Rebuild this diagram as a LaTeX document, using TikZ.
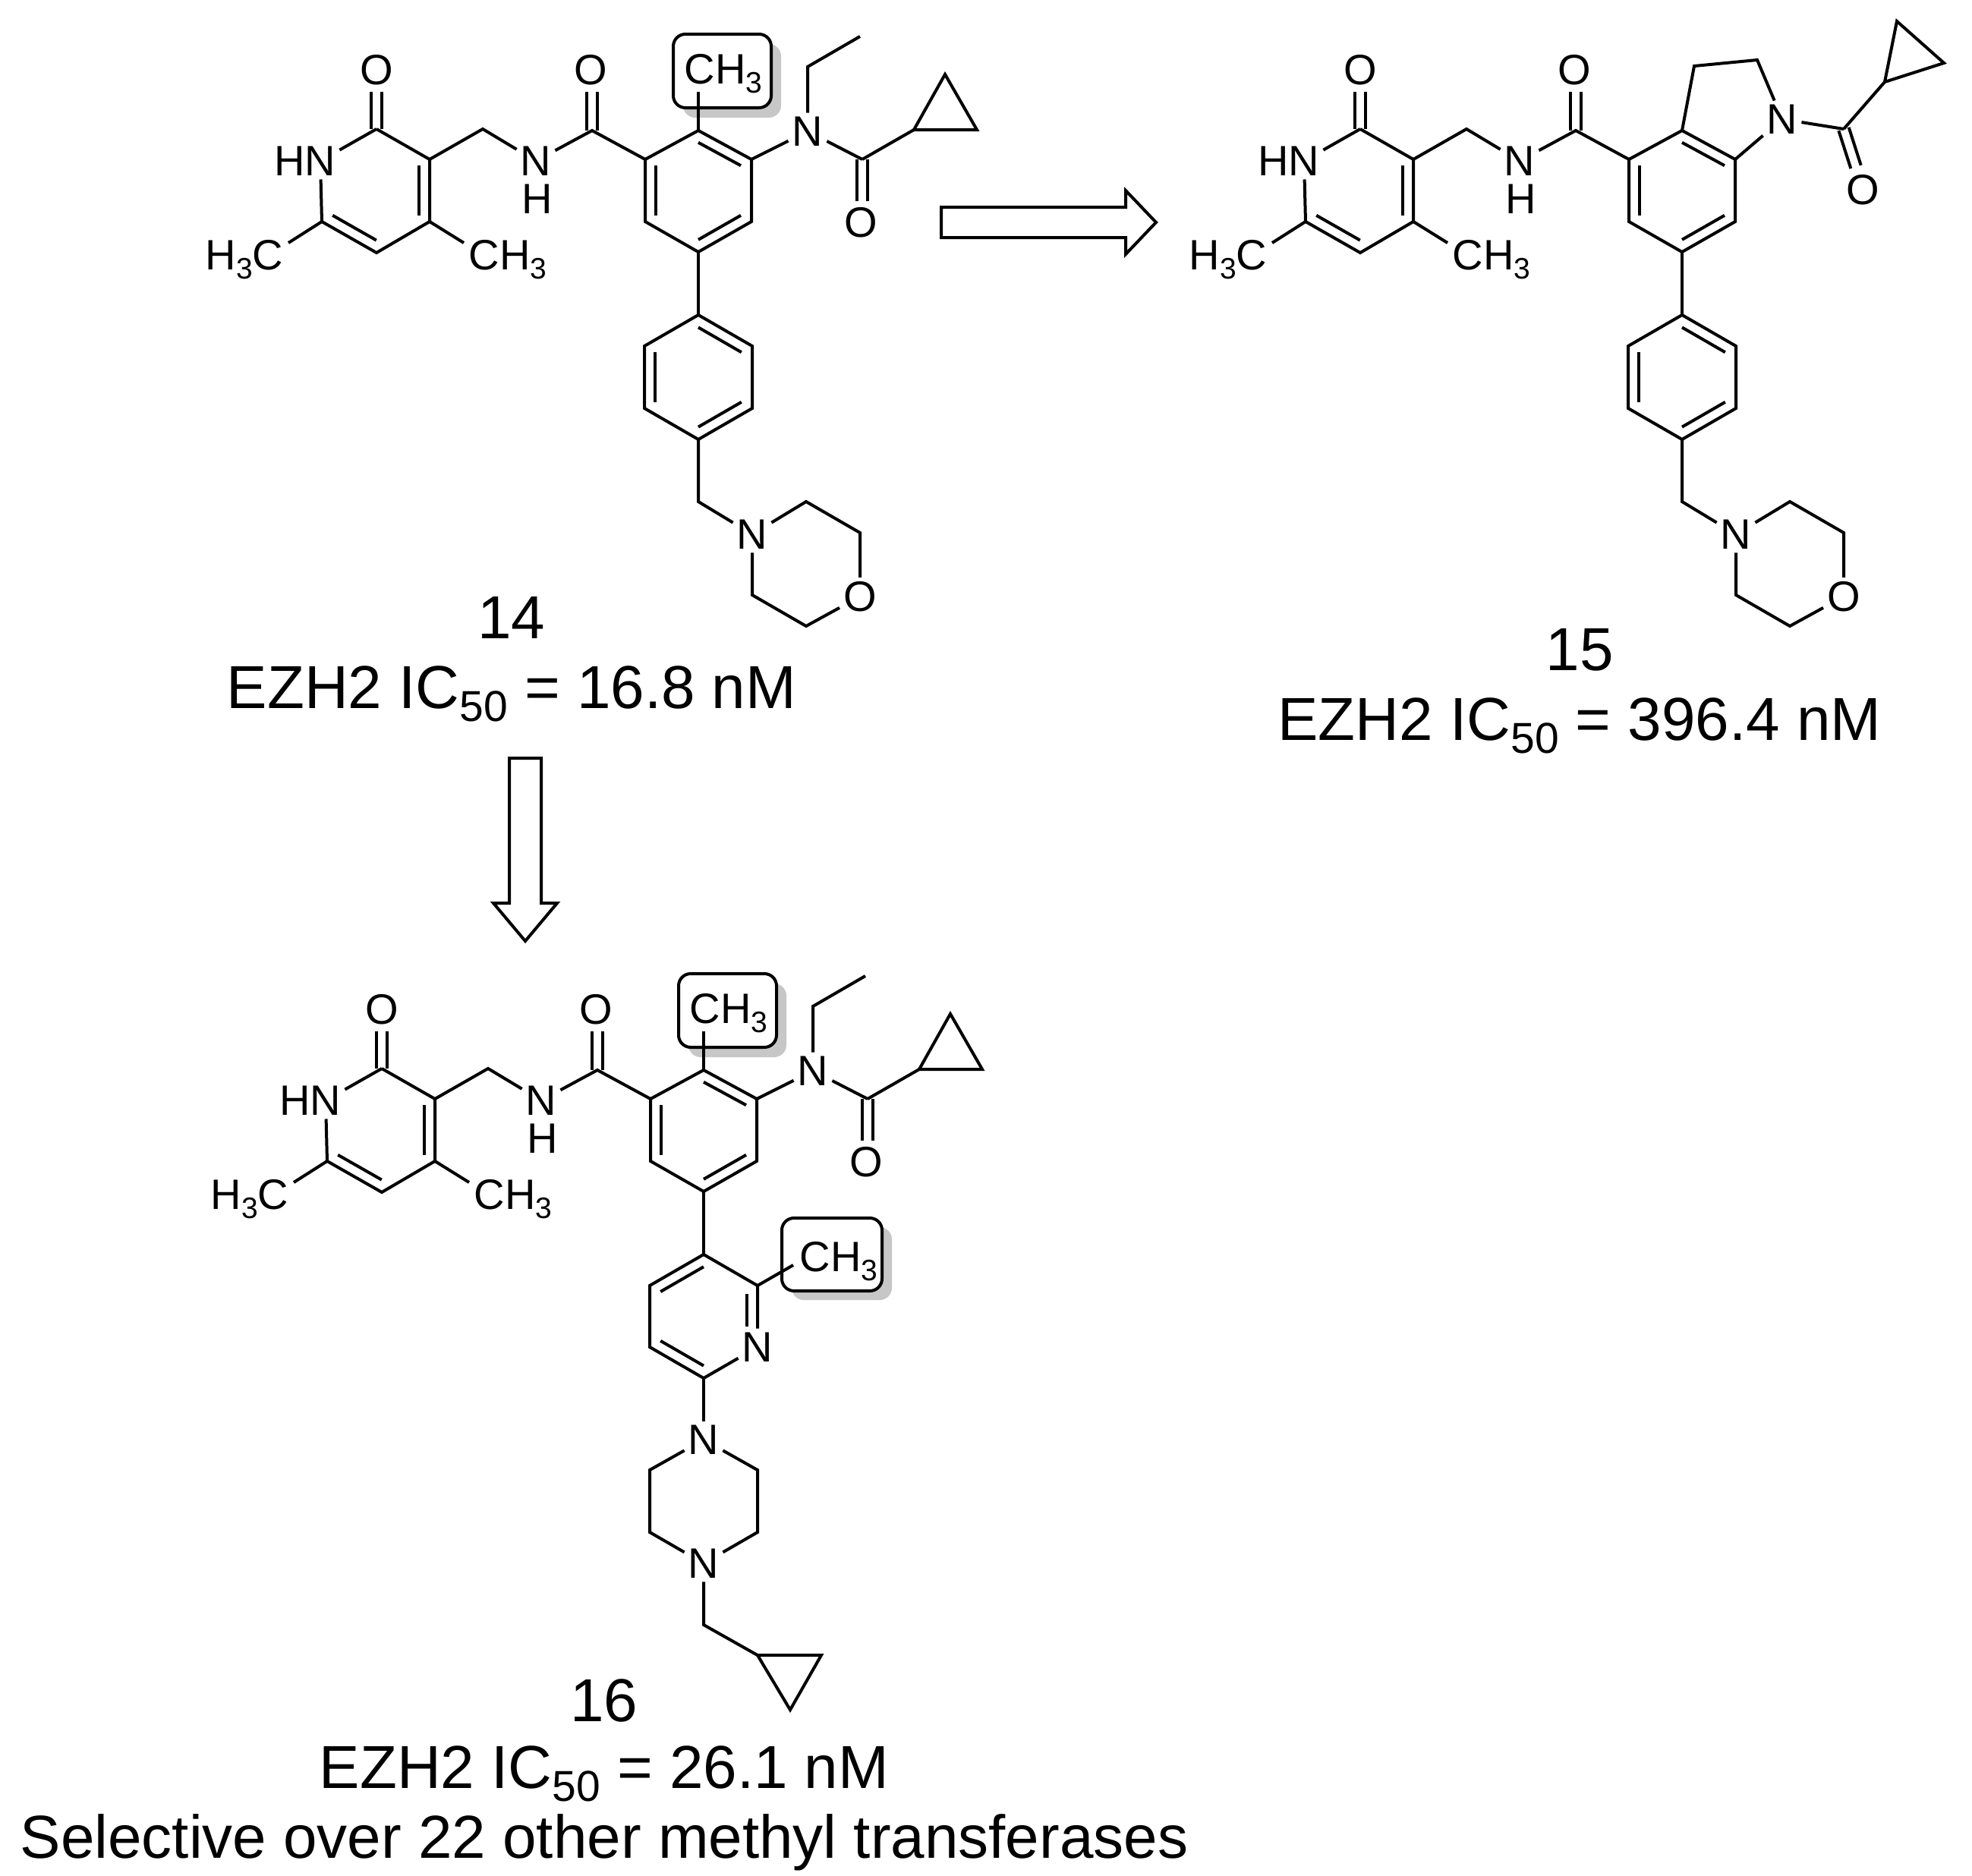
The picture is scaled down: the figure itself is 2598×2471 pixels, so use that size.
\documentclass[tikz,border=0pt]{standalone}
\usepackage{fontspec}
\setmainfont{Liberation Sans}
\usetikzlibrary{calc}
\newcommand\sbs[1]{\raisebox{-0.22em}{\fontsize{39}{39}\selectfont #1}}
\newcommand\sbl[1]{\raisebox{-0.22em}{\fontsize{57}{57}\selectfont #1}}
\tikzset{atom/.style={font=\fontsize{56}{56}\selectfont, inner sep=5pt},
 lbl/.style={font=\fontsize{80}{80}\selectfont, inner sep=0pt, anchor=base},
 bond/.style={line width=4pt},
 hibox/.style={draw, line width=4pt, fill=white, rounded corners=16pt},
 hishadow/.style={fill=black!22, rounded corners=16pt},
 bigarrow/.style={draw, line width=4pt, fill=white, line join=miter}}
\newcommand\dblb[2]{\draw[bond] ($(#1)!7pt!90:(#2)$) -- ($(#2)!7pt!-90:(#1)$); \draw[bond] ($(#1)!7pt!-90:(#2)$) -- ($(#2)!7pt!90:(#1)$);}
\newcommand\inb[3]{\draw[bond] ($(#1)!0.2!(#3)$) -- ($(#2)!0.2!(#3)$);}
\newcommand\pyram[1]{%
 \coordinate (#1c2) at (496,170); \coordinate (#1c3) at (566,210); \coordinate (#1c4) at (566,292);
 \coordinate (#1c5) at (496,333); \coordinate (#1c6) at (424,292); \coordinate (#1pc) at (495,251);
 \node[atom] (#1n1) at (422,212) {N};
 \node[atom,anchor=east,inner sep=0pt] (#1h1) at ([xshift=6pt]#1n1.west) {H};
 \node[atom] (#1O1) at (496,92) {O}; \coordinate (#1o1e) at (496,121);
 \draw[bond] (#1c6) -- (#1n1) -- (#1c2);
 \draw[bond] (#1c2) -- (#1c3) -- (#1c4) -- (#1c5) -- (#1c6);
 \inb{#1c3}{#1c4}{#1pc} \inb{#1c5}{#1c6}{#1pc}
 \dblb{#1c2}{#1o1e}
 \coordinate (#1m1) at (380,320); \coordinate (#1m2) at (611,320);
 \draw[bond] (#1c6) -- (#1m1); \draw[bond] (#1c4) -- (#1m2);
 \node[atom,anchor=base,inner sep=0pt] (#1me1) at (322,355) {H\sbs{3}C};
 \node[atom,anchor=base,inner sep=0pt] (#1me2) at (669,355) {CH\sbs{3}};
 \coordinate (#1ch2) at (636,170); \node[atom] (#1n2) at (706,212) {N};
 \node[atom] (#1h2) at (708,262) {H};
 \coordinate (#1c7) at (780,172); \coordinate (#1o2e) at (780,121);
 \node[atom] (#1O2) at (778,92) {O}; \coordinate (#1b1) at (850,210);
 \draw[bond] (#1c3) -- (#1ch2) -- (#1n2) -- (#1c7) -- (#1b1);
 \dblb{#1c7}{#1o2e}
}
\newcommand\benz[1]{%
 \coordinate (#1b2) at (920,172); \coordinate (#1b3) at (990,210); \coordinate (#1b4) at (990,292);
 \coordinate (#1b5) at (920,332); \coordinate (#1b6) at (850,292); \coordinate (#1bc) at (920,251);
 \draw[bond] (#1b1) -- (#1b2) -- (#1b3) -- (#1b4) -- (#1b5) -- (#1b6) -- cycle;
 \inb{#1b2}{#1b3}{#1bc} \inb{#1b4}{#1b5}{#1bc} \inb{#1b6}{#1b1}{#1bc}
 \fill[hishadow] (900,58) rectangle (1029,155);
 \draw[hibox] (887,45) rectangle (1016,142);
 \coordinate (#1me3) at (920,121); \draw[bond] (#1b2) -- (#1me3);
 \node[atom,anchor=base,inner sep=0pt] (#1me3t) at (953,110) {CH\sbs{3}};
 \node[atom] (#1n3) at (1064,173) {N};
 \coordinate (#1et1) at (1064,88); \coordinate (#1et2) at (1133,48);
 \draw[bond] (#1b3) -- (#1n3); \draw[bond] (#1n3) -- (#1et1) -- (#1et2);
 \coordinate (#1ac) at (1136,210); \coordinate (#1aoe) at (1136,265);
 \node[atom] (#1O3) at (1134,293) {O};
 \draw[bond] (#1n3) -- (#1ac); \dblb{#1ac}{#1aoe}
 \coordinate (#1cp1) at (1204,171); \coordinate (#1cp2) at (1245,98); \coordinate (#1cp3) at (1287,171);
 \draw[bond] (#1ac) -- (#1cp1); \draw[bond] (#1cp1) -- (#1cp2) -- (#1cp3) -- cycle;
 \coordinate (#1p1) at (920,415); \draw[bond] (#1b5) -- (#1p1);
}
\newcommand\phmorph[1]{%
 \coordinate (#1p1) at (920,415); \coordinate (#1p2) at (991,456); \coordinate (#1p3) at (991,538);
 \coordinate (#1p4) at (920,579); \coordinate (#1p5) at (849,538); \coordinate (#1p6) at (849,456);
 \coordinate (#1ppc) at (920,497);
 \draw[bond] (#1p1) -- (#1p2) -- (#1p3) -- (#1p4) -- (#1p5) -- (#1p6) -- cycle;
 \inb{#1p1}{#1p2}{#1ppc} \inb{#1p3}{#1p4}{#1ppc} \inb{#1p5}{#1p6}{#1ppc}
 \coordinate (#1pch) at (920,661);
 \node[atom] (#1mn) at (991,704) {N}; \node[atom] (#1mo) at (1133,786) {O};
 \coordinate (#1q1) at (1062,661); \coordinate (#1q2) at (1133,702);
 \coordinate (#1q3) at (1062,825); \coordinate (#1q4) at (991,784);
 \draw[bond] (#1p4) -- (#1pch) -- (#1mn) -- (#1q1) -- (#1q2) -- (#1mo) -- (#1q3) -- (#1q4) -- (#1mn);
}
\begin{document}
\begin{tikzpicture}[x=1pt,y=-1pt]
\useasboundingbox (0,0) rectangle (2598,2471);
\fill[white] (0,0) rectangle (2598,2471);
% ---- compound 14
\pyram{a} \benz{a} \phmorph{a}
\node[lbl] (l14) at (674,841) {14};
\node[lbl] (e14) at (674,933) {EZH2 IC\sbl{50} = 16.8 nM};
% ---- compound 15
\begin{scope}[shift={(1296,0)}]
\pyram{f}
\coordinate (fb2) at (920,172); \coordinate (fb3) at (990,210); \coordinate (fb4) at (990,292);
\coordinate (fb5) at (920,332); \coordinate (fb6) at (850,292); \coordinate (fbc) at (920,251);
\draw[bond] (fb1) -- (fb2) -- (fb3) -- (fb4) -- (fb5) -- (fb6) -- cycle;
\inb{fb2}{fb3}{fbc} \inb{fb4}{fb5}{fbc} \inb{fb6}{fb1}{fbc}
\coordinate (fi3) at (936,87); \coordinate (fi2) at (1019,79);
\node[atom] (fin) at (1052,157) {N};
\draw[bond] (fb2) -- (fi3) -- (fi2) -- (fin) -- (fb3);
\coordinate (fac) at (1133,170); \node[atom] (fao) at (1158,250) {O};
\coordinate (faoe) at ($(fac)!0.64!(1158,248)$);
\draw[bond] (fin) -- (fac); \dblb{fac}{faoe}
\coordinate (fcp1) at (1187,108); \coordinate (fcp2) at (1203,28); \coordinate (fcp3) at (1265,83);
\draw[bond] (fac) -- (fcp1); \draw[bond] (fcp1) -- (fcp2) -- (fcp3) -- cycle;
\draw[bond] (fb5) -- (920,415);
\phmorph{f}
\end{scope}
\node[lbl] (l15) at (2081,883) {15};
\node[lbl] (e15) at (2081,975) {EZH2 IC\sbl{50} = 396.4 nM};
% ---- arrows
\draw[bigarrow] (1240,273) -- (1483,273) -- (1483,251) -- (1523,293) -- (1483,335) -- (1483,313) -- (1240,313) -- cycle;
\draw[bigarrow] (671,999) -- (713,999) -- (713,1190) -- (734,1190) -- (692,1240) -- (650,1190) -- (671,1190) -- cycle;
% ---- compound 16
\begin{scope}[shift={(7,1238)}]
\pyram{s} \benz{s}
\end{scope}
\coordinate (y1) at (927,1653); \coordinate (y2) at (998,1694); \node[atom] (yn) at (998,1775) {N};
\coordinate (y4) at (927,1816); \coordinate (y5) at (856,1775); \coordinate (y6) at (856,1694);
\coordinate (yc) at (927,1734);
\draw[bond] (y1) -- (y2) -- (yn);
\draw[bond] (yn) -- (y4) -- (y5) -- (y6) -- (y1);
\inb{y6}{y1}{yc} \inb{y4}{y5}{yc}
\draw[bond] (984,1705) -- (984,1748);
\fill[hishadow] (1043,1617) rectangle (1175,1713);
\draw[hibox] (1030,1605) rectangle (1162,1701);
\coordinate (ym) at (1045,1667); \draw[bond] (y2) -- (ym);
\node[atom,anchor=base,inner sep=0pt] (ymt) at (1105,1675) {CH\sbs{3}};
\node[atom] (zn1) at (927,1897) {N}; \node[atom] (zn2) at (927,2060) {N};
\coordinate (z2) at (998,1937); \coordinate (z3) at (998,2019);
\coordinate (z5) at (856,2019); \coordinate (z6) at (856,1937);
\draw[bond] (y4) -- (zn1);
\draw[bond] (zn1) -- (z2) -- (z3) -- (zn2) -- (z5) -- (z6) -- (zn1);
\coordinate (zch) at (927,2141); \coordinate (zc1) at (998,2181);
\coordinate (zc2) at (1082,2181); \coordinate (zc3) at (1041,2253);
\draw[bond] (zn2) -- (zch) -- (zc1); \draw[bond] (zc1) -- (zc2) -- (zc3) -- cycle;
\node[lbl] (l16) at (796,2268) {16};
\node[lbl] (e16) at (796,2356) {EZH2 IC\sbl{50} = 26.1 nM};
\node[lbl] (s16) at (796,2448) {Selective over 22 other methyl transferases};
\end{tikzpicture}
\end{document}
